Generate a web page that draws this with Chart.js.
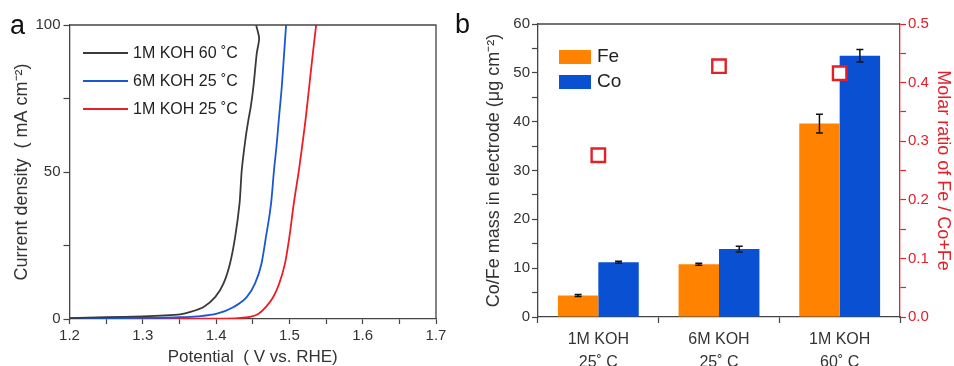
<!DOCTYPE html>
<html>
<head>
<meta charset="utf-8">
<script src="https://cdn.jsdelivr.net/npm/chart.js@4.4.1/dist/chart.umd.min.js"></script>
<style>
  html, body { margin: 0; padding: 0; background: #fff; }
  #wrap { position: relative; width: 954px; height: 366px; overflow: hidden; font-family: 'Liberation Sans', Arial, sans-serif; }
  canvas { position: absolute; top: 0; }
  #lvChart { left: 0; }
  #massChart { left: 470px; }
  .panel { position: absolute; font-size: 27px; color: #111; line-height: 1; }
</style>
</head>
<body>
<div id="wrap">
  <canvas id="lvChart" width="470" height="366"></canvas>
  <canvas id="massChart" width="484" height="366"></canvas>
  <div class="panel" style="left:10px; top:12px;">a</div>
  <div class="panel" style="left:455px; top:11px;">b</div>
</div>
<script>
// LSV curves: potential (V vs. RHE) and current density (mA cm-2)
const v60 = [1.20, 1.25, 1.30, 1.33, 1.351, 1.365, 1.383, 1.399, 1.410, 1.419, 1.426, 1.432, 1.435, 1.4405, 1.4441, 1.4473, 1.4509, 1.4555, 1.4587, 1.4546];
const j60 = [0.3, 0.6, 0.9, 1.2, 1.6, 2.4, 4.1, 7.5, 12.0, 18.9, 27.9, 39.3, 50.6, 62.0, 67.7, 72.2, 79.0, 90.4, 95.5, 100];
const v6M = [1.20, 1.25, 1.30, 1.35, 1.374, 1.401, 1.424, 1.442, 1.453, 1.462, 1.468, 1.475, 1.479, 1.4825, 1.4855, 1.4896, 1.4928, 1.4955];
const j6M = [0.2, 0.3, 0.4, 0.6, 0.9, 1.8, 4.1, 7.5, 12.0, 18.9, 27.9, 39.3, 50.6, 59.0, 67.7, 79.0, 90.4, 100];
const v1M = [1.20, 1.30, 1.40, 1.43, 1.446, 1.458, 1.468, 1.478, 1.486, 1.494, 1.500, 1.506, 1.513, 1.5175, 1.522, 1.527, 1.532, 1.5365];
const j1M = [0.1, 0.1, 0.15, 0.3, 0.7, 1.8, 4.1, 7.5, 12.0, 18.9, 27.9, 39.3, 50.6, 59.0, 67.7, 79.0, 90.4, 100];
const curveLabels = ['1M KOH 60 ˚C', '6M KOH 25 ˚C', '1M KOH 25 ˚C'];

// metal loading per electrode (ug cm-2) and Fe molar ratio
const conditions = [['1M KOH', '25˚ C'], ['6M KOH', '25˚ C'], ['1M KOH', '60˚ C']];
const feMass = [4.4, 10.8, 39.6];
const feErr = [0.2, 0.2, 1.9];
const coMass = [11.2, 13.9, 53.5];
const coErr = [0.2, 0.6, 1.3];
const feRatio = [0.276, 0.428, 0.416];

const AXIS = '#444';
const TEXT = '#333';
const RED = '#E3202A';

Chart.defaults.font.family = "'Liberation Sans', Arial, sans-serif";
Chart.defaults.color = TEXT;
Chart.defaults.animation = false;

const zip = (xs, ys) => xs.map((x, i) => ({ x: x, y: ys[i] }));
const isMultiple = (v, step) => Math.abs(Math.round(v / step) * step - v) < 1e-6;

// box around the plot area (sides without an axis)
const frame = {
    id: 'frame',
    afterDraw(chart, args, opts) {
        const { ctx, chartArea: a } = chart;
        ctx.save();
        ctx.strokeStyle = AXIS;
        ctx.lineWidth = 1.3;
        ctx.beginPath();
        ctx.moveTo(a.left, a.top);
        ctx.lineTo(a.right, a.top);
        if (opts.right) ctx.lineTo(a.right, a.bottom);
        ctx.stroke();
        ctx.restore();
    }
};

const lineLegend = {
    id: 'lineLegend',
    afterDraw(chart) {
        const ctx = chart.ctx;
        ctx.save();
        ctx.font = "16px 'Liberation Sans', Arial, sans-serif";
        ctx.textBaseline = 'middle';
        chart.data.datasets.forEach((ds, i) => {
            const y = 53 + i * 28;
            ctx.strokeStyle = ds.borderColor;
            ctx.lineWidth = 2;
            ctx.beginPath();
            ctx.moveTo(83, y);
            ctx.lineTo(128, y);
            ctx.stroke();
            ctx.fillStyle = '#222';
            ctx.fillText(ds.label, 133, y + 1);
        });
        ctx.restore();
    }
};

const boxLegend = {
    id: 'boxLegend',
    afterDraw(chart) {
        const ctx = chart.ctx;
        ctx.save();
        ctx.font = "19px 'Liberation Sans', Arial, sans-serif";
        ctx.textBaseline = 'middle';
        chart.data.datasets.filter(ds => ds.type !== 'line').forEach((ds, i) => {
            const y = 50 + i * 25;
            ctx.fillStyle = ds.backgroundColor;
            ctx.fillRect(89, y, 32, 14);
            ctx.fillStyle = '#222';
            ctx.fillText(ds.label, 127, y + 7);
        });
        ctx.restore();
    }
};

const errorBars = {
    id: 'errorBars',
    afterDatasetsDraw(chart) {
        const ctx = chart.ctx;
        const y = chart.scales.y;
        ctx.save();
        ctx.strokeStyle = '#111';
        ctx.lineWidth = 1.5;
        chart.data.datasets.forEach((ds, i) => {
            if (!ds.errors) return;
            chart.getDatasetMeta(i).data.forEach((bar, j) => {
                const top = y.getPixelForValue(ds.data[j] + ds.errors[j]);
                const bot = y.getPixelForValue(ds.data[j] - ds.errors[j]);
                ctx.beginPath();
                ctx.moveTo(bar.x, top);
                ctx.lineTo(bar.x, bot);
                ctx.moveTo(bar.x - 3.5, top);
                ctx.lineTo(bar.x + 3.5, top);
                ctx.moveTo(bar.x - 3.5, bot);
                ctx.lineTo(bar.x + 3.5, bot);
                ctx.stroke();
            });
        });
        ctx.restore();
    }
};

function lvChart() {
    const colors = ['#3A3A3A', '#1957D6', '#EE1C24'];
    const series = [zip(v60, j60), zip(v6M, j6M), zip(v1M, j1M)];

    new Chart(document.getElementById('lvChart'), {
        type: 'scatter',
        data: {
            datasets: series.map((pts, i) => ({
                label: curveLabels[i],
                data: pts,
                showLine: true,
                borderColor: colors[i],
                borderWidth: 1.8,
                pointRadius: 0,
                tension: 0.25,
                // the 60 C curve bends back near the top, so keep bezier there
                cubicInterpolationMode: i === 0 ? 'default' : 'monotone'
            }))
        },
        options: {
            responsive: false,
            layout: { padding: { top: 25, right: 34, left: 0, bottom: 0 } },
            plugins: { legend: { display: false }, tooltip: { enabled: false }, frame: { right: true } },
            scales: {
                x: {
                    type: 'linear',
                    min: 1.2,
                    max: 1.7,
                    afterFit: s => { s.height = 47; },
                    afterBuildTicks: s => {
                        s.ticks = [];
                        for (let k = 0; k <= 10; k++) s.ticks.push({ value: 1.2 + k * 0.05 });
                    },
                    ticks: {
                        autoSkip: false,
                        maxRotation: 0,
                        padding: 3,
                        font: { size: 15 },
                        color: TEXT,
                        callback: v => isMultiple(v, 0.1) ? v.toFixed(1) : ''
                    },
                    grid: { drawOnChartArea: false, tickLength: 5, color: AXIS, tickWidth: 1.2 },
                    border: { color: AXIS, width: 1.3 },
                    title: { display: true, text: 'Potential  ( V vs. RHE)', font: { size: 17, lineHeight: 1 }, color: TEXT, padding: 0 }
                },
                y: {
                    min: 0,
                    max: 100,
                    afterFit: s => { s.width = 69.5; },
                    ticks: {
                        stepSize: 25,
                        padding: 3,
                        font: { size: 15 },
                        color: TEXT,
                        callback: v => isMultiple(v, 50) ? v : ''
                    },
                    grid: { drawOnChartArea: false, tickLength: 6, color: AXIS, tickWidth: 1.2 },
                    border: { color: AXIS, width: 1.3 },
                    title: { display: true, text: 'Current density  ( mA cm⁻²)', font: { size: 18 }, color: TEXT, padding: { top: 11 } }
                }
            }
        },
        plugins: [frame, lineLegend]
    });
}

function massChart() {
    new Chart(document.getElementById('massChart'), {
        type: 'bar',
        data: {
            labels: conditions,
            datasets: [
                {
                    label: 'Fe',
                    data: feMass,
                    errors: feErr,
                    backgroundColor: '#FF8300',
                    categoryPercentage: 0.67,
                    barPercentage: 1.0,
                    order: 2,
                    yAxisID: 'y'
                },
                {
                    label: 'Co',
                    data: coMass,
                    errors: coErr,
                    backgroundColor: '#0A50D3',
                    categoryPercentage: 0.67,
                    barPercentage: 1.0,
                    order: 2,
                    yAxisID: 'y'
                },
                {
                    type: 'line',
                    label: 'Fe / Co+Fe',
                    data: feRatio,
                    yAxisID: 'y2',
                    order: 1,
                    showLine: false,
                    pointStyle: 'rect',
                    pointRadius: 9.5,
                    pointBorderWidth: 2.4,
                    pointBorderColor: RED,
                    pointBackgroundColor: '#fff'
                }
            ]
        },
        options: {
            responsive: false,
            layout: { padding: { top: 24, right: 0, left: 0, bottom: 0 } },
            plugins: { legend: { display: false }, tooltip: { enabled: false }, frame: { right: false } },
            scales: {
                x: {
                    afterFit: s => { s.height = 49; },
                    ticks: { padding: 6, font: { size: 16, lineHeight: 1.38 }, color: TEXT },
                    grid: { drawOnChartArea: false, offset: true, tickLength: 6, color: AXIS, tickWidth: 1.2 },
                    border: { color: AXIS, width: 1.3 }
                },
                y: {
                    min: 0,
                    max: 60,
                    afterFit: s => { s.width = 68; },
                    ticks: {
                        stepSize: 5,
                        padding: 2,
                        font: { size: 15 },
                        color: TEXT,
                        callback: v => isMultiple(v, 10) ? v : ''
                    },
                    grid: { drawOnChartArea: false, tickLength: 6, color: AXIS, tickWidth: 1.2 },
                    border: { color: AXIS, width: 1.3 },
                    title: { display: true, text: 'Co/Fe mass in electrode (μg cm⁻²)', font: { size: 18 }, color: TEXT, padding: { top: 13 } }
                },
                y2: {
                    position: 'right',
                    min: 0,
                    max: 0.5,
                    afterFit: s => { s.width = 54; },
                    ticks: {
                        stepSize: 0.05,
                        padding: 2,
                        font: { size: 15 },
                        color: RED,
                        callback: v => isMultiple(v, 0.1) ? v.toFixed(1) : ''
                    },
                    grid: { drawOnChartArea: false, tickLength: 6, color: RED, tickWidth: 1.2 },
                    border: { color: RED, width: 1.3 },
                    title: { display: true, text: 'Molar ratio of Fe / Co+Fe', font: { size: 18 }, color: RED, padding: { top: 0 } }
                }
            }
        },
        plugins: [frame, errorBars, boxLegend]
    });
}

document.addEventListener('DOMContentLoaded', () => {
    lvChart();
    massChart();
});
</script>
</body>
</html>
